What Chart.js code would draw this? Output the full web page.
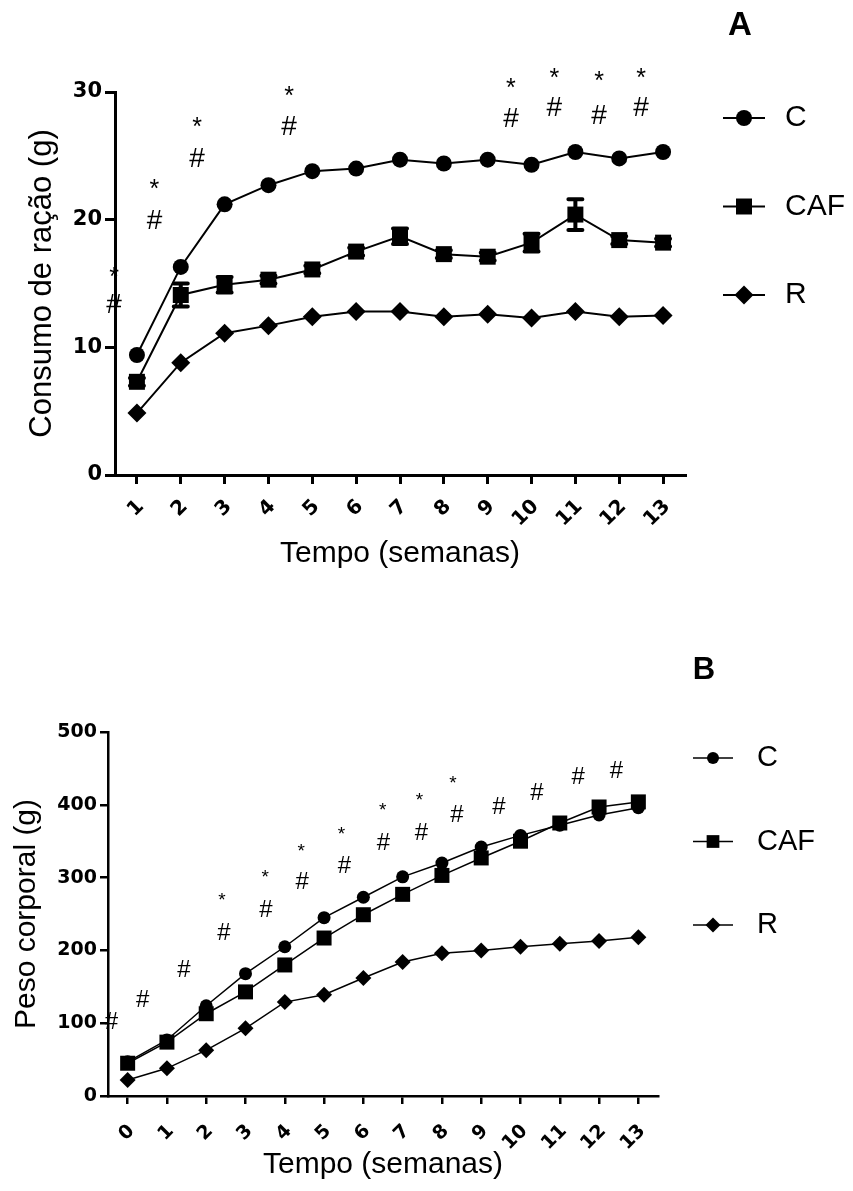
<!DOCTYPE html>
<html>
<head>
<meta charset="utf-8">
<script src="https://cdn.jsdelivr.net/npm/chart.js@4.4.1/dist/chart.umd.min.js"></script>
<style>
  body { margin: 0; background: #fff; }
  #wrapA { position: absolute; left: 0; top: 0; width: 853px; height: 600px; }
  #wrapB { position: absolute; left: 0; top: 600px; width: 853px; height: 591px; }
</style>
</head>
<body>
<div id="wrapA"><canvas id="chartA" width="853" height="600"></canvas></div>
<div id="wrapB"><canvas id="chartB" width="853" height="591"></canvas></div>
<script>
// --- panel A: consumo de ração ---
const weeksA = [1, 2, 3, 4, 5, 6, 7, 8, 9, 10, 11, 12, 13];
const racaoC = [9.4, 16.3, 21.2, 22.7, 23.8, 24.0, 24.7, 24.4, 24.7, 24.3, 25.3, 24.8, 25.3];
const racaoCAF = [7.3, 14.1, 14.9, 15.3, 16.1, 17.5, 18.7, 17.3, 17.1, 18.2, 20.4, 18.4, 18.2];
const racaoCAFerr = [0.3, 0.9, 0.6, 0.3, 0.3, 0.3, 0.6, 0.3, 0.3, 0.7, 1.2, 0.3, 0.3];
const racaoR = [4.85, 8.8, 11.1, 11.7, 12.4, 12.8, 12.8, 12.4, 12.6, 12.3, 12.8, 12.4, 12.5];
const yTicksA = [0, 10, 20, 30];
// significance marks (x in weeks, y in g)
const sigXA = [0.48, 1.4, 2.37, 4.47, 9.53, 10.52, 11.54, 12.5];
const starYA = [15.8, 22.7, 27.6, 30.0, 30.6, 31.4, 31.2, 31.4];
const hashYA = [13.3, 19.9, 24.7, 27.2, 27.9, 28.7, 28.1, 28.7];

// --- panel B: peso corporal ---
const weeksB = [0, 1, 2, 3, 4, 5, 6, 7, 8, 9, 10, 11, 12, 13];
const pesoC = [47, 77, 124, 168, 205, 245, 273, 301, 320, 342, 358, 372, 386, 396];
const pesoCAF = [45, 74, 113, 143, 180, 217, 249, 277, 303, 327, 350, 375, 397, 404];
const pesoR = [22, 38, 63, 93, 129, 139, 162, 184, 196, 200, 205, 209, 213, 218];
const yTicksB = [0, 100, 200, 300, 400, 500];
const hashXB = [-0.41, 0.38, 1.43, 2.45, 3.52, 4.44, 5.52, 6.51, 7.48, 8.38, 9.45, 10.42, 11.47, 12.44];
const hashYB = [101, 132, 172, 224, 255, 293, 315, 347, 361, 386, 396, 416, 438, 446];
const starXB = [2.4, 3.5, 4.42, 5.44, 6.49, 7.43, 8.28];
const starYB = [273, 305, 341, 365, 397, 411, 435];

const seriesNames = ['C', 'CAF', 'R'];
const styles = ['circle', 'rect', 'rectRot'];

const pts = (xs, ys) => xs.map((x, i) => ({ x: x, y: ys[i] }));

const marks = {
  id: 'marks',
  afterDraw(chart, args, o) {
    const { ctx, scales: { x, y } } = chart;
    ctx.save();
    ctx.fillStyle = '#000';
    ctx.textAlign = 'center';
    ctx.textBaseline = 'middle';
    (o.groups || []).forEach(g => {
      ctx.font = g.font;
      g.xs.forEach((xv, i) => {
        ctx.fillText(g.text, x.getPixelForValue(xv), y.getPixelForValue(g.ys[i]) + (g.dy || 0));
      });
    });
    ctx.restore();
  }
};

const errorBars = {
  id: 'errorBars',
  afterDatasetsDraw(chart, args, o) {
    if (!o.values) return;
    const { ctx, scales: { x, y } } = chart;
    ctx.save();
    ctx.strokeStyle = '#000';
    ctx.lineWidth = o.lineWidth;
    ctx.lineCap = 'round';
    o.values.forEach((v, i) => {
      const e = o.errors[i];
      const px = x.getPixelForValue(o.xs[i]);
      const top = y.getPixelForValue(v + e);
      const bot = y.getPixelForValue(v - e);
      ctx.beginPath();
      ctx.moveTo(px, top); ctx.lineTo(px, bot);
      ctx.moveTo(px - o.cap, top); ctx.lineTo(px + o.cap, top);
      ctx.moveTo(px - o.cap, bot); ctx.lineTo(px + o.cap, bot);
      ctx.stroke();
    });
    ctx.restore();
  }
};

const sideLegend = {
  id: 'sideLegend',
  afterDraw(chart, args, o) {
    const ctx = chart.ctx;
    ctx.save();
    ctx.fillStyle = '#000';
    ctx.strokeStyle = '#000';
    ctx.textBaseline = 'middle';
    ctx.textAlign = 'center';
    ctx.font = o.letterFont;
    ctx.fillText(o.letter, o.letterX, o.letterY);
    ctx.font = o.font;
    chart.data.datasets.forEach((ds, i) => {
      const yy = o.top + i * o.gap;
      ctx.lineWidth = o.lineWidth;
      ctx.beginPath();
      ctx.moveTo(o.x0, yy); ctx.lineTo(o.x1, yy);
      ctx.stroke();
      Chart.helpers.drawPoint(ctx, { pointStyle: ds.pointStyle, radius: o.radius[i], borderWidth: 0, rotation: 0 }, (o.x0 + o.x1) / 2, yy);
      ctx.textAlign = 'left';
      ctx.fillText(ds.label, o.textX, yy);
    });
    ctx.restore();
  }
};

function dataset(i, xs, ys, radius, width) {
  return {
    label: seriesNames[i],
    data: pts(xs, ys),
    borderColor: '#000',
    backgroundColor: '#000',
    borderWidth: width,
    pointStyle: styles[i],
    pointRadius: radius[i],
    pointHoverRadius: radius[i],
    pointBorderWidth: 0,
    tension: 0
  };
}

function axisX(c) {
  return {
    type: 'linear', min: c.min, max: c.max,
    afterBuildTicks: s => { s.ticks = c.ticks.map(v => ({ value: v })); },
    afterFit: s => { s.height = c.height; },
    grid: { display: true, drawOnChartArea: false, drawTicks: true, tickLength: c.tickLength, lineWidth: c.lw, color: '#000' },
    border: { display: true, width: c.lw, color: '#000' },
    ticks: {
      color: '#000', minRotation: 45, maxRotation: 45, padding: c.tickPad, labelOffset: c.labelOffset,
      font: { family: 'DejaVu Sans', weight: 'bold', size: c.tickSize }
    },
    title: { display: true, text: 'Tempo (semanas)', color: '#000',
      font: { family: 'Liberation Sans', size: 30 }, padding: { top: 0, bottom: c.titlePad } }
  };
}

function axisY(c) {
  return {
    min: c.min, max: c.max,
    afterBuildTicks: s => { s.ticks = c.ticks.map(v => ({ value: v })); },
    afterFit: s => { s.width = c.width; },
    grid: { display: true, drawOnChartArea: false, drawTicks: true, tickLength: c.tickLength, lineWidth: c.lw, color: '#000' },
    border: { display: true, width: c.lw, color: '#000' },
    ticks: { color: '#000', padding: 3, font: { family: 'DejaVu Sans', weight: 'bold', size: c.tickSize } },
    title: { display: true, text: c.title, color: '#000',
      font: { family: 'Liberation Sans', size: c.titleSize }, padding: { top: c.titlePad, bottom: 0 } }
  };
}

const radA = [8, 11.3, 9.5];
new Chart(document.getElementById('chartA'), {
  type: 'line',
  data: {
    datasets: [
      dataset(0, weeksA, racaoC, radA, 2),
      dataset(1, weeksA, racaoCAF, radA, 2),
      dataset(2, weeksA, racaoR, radA, 2)
    ]
  },
  options: {
    responsive: false, animation: false, devicePixelRatio: 1,
    layout: { padding: { top: 92, right: 168, left: 0, bottom: 0 } },
    scales: {
      x: axisX({ min: 0.5, max: 13.5, ticks: weeksA, height: 125, tickLength: 9, lw: 3, labelOffset: 4, tickPad: 11, tickSize: 20, titlePad: 28 }),
      y: axisY({ min: 0, max: 30, ticks: yTicksA, width: 115, tickLength: 10, lw: 3, tickSize: 21, title: 'Consumo de ração (g)', titleSize: 31, titlePad: 24 })
    },
    plugins: {
      legend: { display: false },
      tooltip: { enabled: false },
      errorBars: { values: racaoCAF, errors: racaoCAFerr, xs: weeksA, cap: 7, lineWidth: 4 },
      marks: { groups: [
        { text: '*', font: '25px "Liberation Sans"', xs: sigXA, ys: starYA, dy: 5 },
        { text: '#', font: '28px "Liberation Sans"', xs: sigXA, ys: hashYA }
      ] },
      sideLegend: { letter: 'A', letterFont: 'bold 33px "Liberation Sans"', letterX: 740, letterY: 26,
        font: '30px "Liberation Sans"', x0: 723, x1: 765, textX: 785, top: 118, gap: 88.5, lineWidth: 2, radius: [8, 11.3, 9.5] }
    }
  },
  plugins: [errorBars, marks, sideLegend]
});

const radB = [6.5, 10.6, 8];
new Chart(document.getElementById('chartB'), {
  type: 'line',
  data: {
    datasets: [
      dataset(0, weeksB, pesoC, radB, 1.5),
      dataset(1, weeksB, pesoCAF, radB, 1.5),
      dataset(2, weeksB, pesoR, radB, 1.5)
    ]
  },
  options: {
    responsive: false, animation: false, devicePixelRatio: 1,
    layout: { padding: { top: 132, right: 195, left: 0, bottom: 0 } },
    scales: {
      x: axisX({ min: -0.5, max: 13.5, ticks: weeksB, height: 95, tickLength: 8, lw: 2.5, labelOffset: 4, tickPad: 16, tickSize: 19, titlePad: 8 }),
      y: axisY({ min: 0, max: 500, ticks: yTicksB, width: 108, tickLength: 8, lw: 2.5, tickSize: 19, title: 'Peso corporal (g)', titleSize: 30, titlePad: 9 })
    },
    plugins: {
      legend: { display: false },
      tooltip: { enabled: false },
      marks: { groups: [
        { text: '*', font: '19px "Liberation Sans"', xs: starXB, ys: starYB, dy: 4 },
        { text: '#', font: '24px "Liberation Sans"', xs: hashXB, ys: hashYB }
      ] },
      sideLegend: { letter: 'B', letterFont: 'bold 31px "Liberation Sans"', letterX: 704, letterY: 70,
        font: '29px "Liberation Sans"', x0: 693, x1: 733, textX: 757, top: 158, gap: 83.5, lineWidth: 1.5, radius: [6, 9, 7.5] }
    }
  },
  plugins: [marks, sideLegend]
});
</script>
</body>
</html>
